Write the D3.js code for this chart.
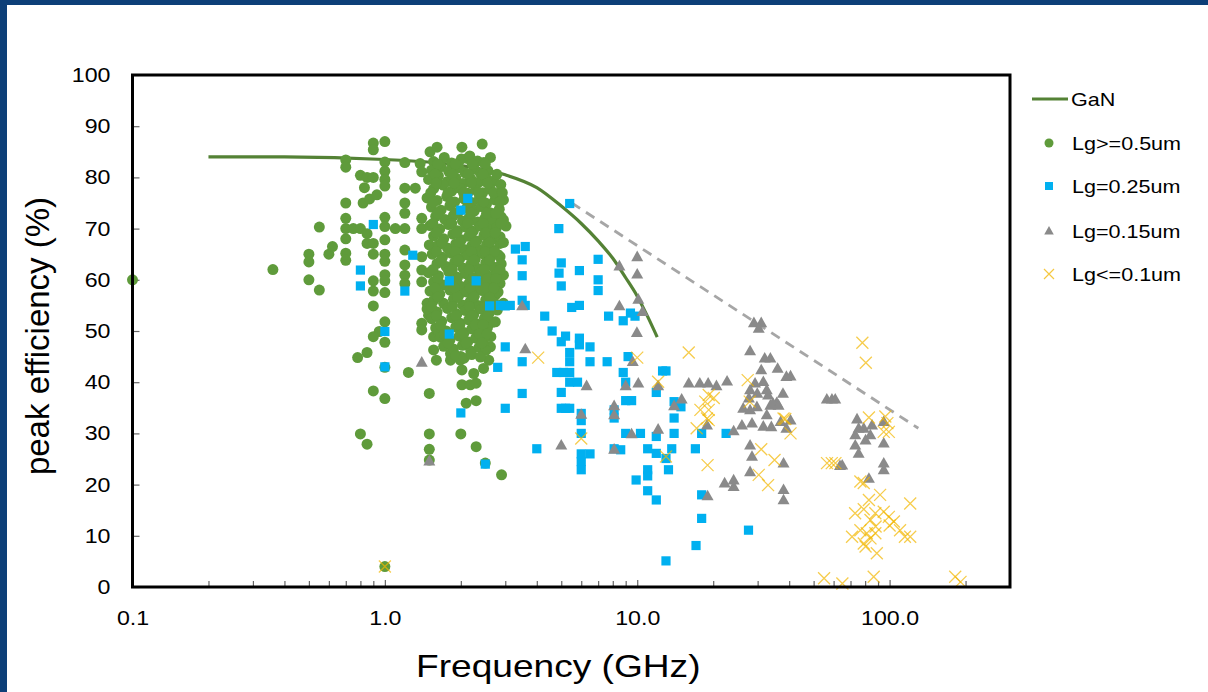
<!DOCTYPE html>
<html>
<head>
<meta charset="utf-8">
<script src="https://cdn.jsdelivr.net/npm/d3@7"></script>
<style>
html, body { margin: 0; padding: 0; background: #fff; }
svg { display: block; font-family: "Liberation Sans", Arial, sans-serif; }
</style>
</head>
<body>
<svg id="chart" width="1208" height="692"></svg>
<script>
// ---- data: [frequency GHz, peak efficiency %] ----
const ganFreq = [0.2, 0.4, 1, 2, 3, 4, 5, 6, 7, 8, 9, 10, 11, 12];
const ganEff  = [84, 84, 83.5, 82.3, 80.5, 78, 74.4, 71, 67.6, 64.2, 60.4, 56.8, 52.8, 48.8];

const trendFreq = [5.5, 130];
const trendEff  = [75, 31];

const lgHalf = [
  [0.1,60],[0.36,62],[0.5,65],[0.5,63.5],[0.5,60],[0.55,58],[0.55,70.3],[0.6,65],[0.62,66.5],
  [0.7,83.4],[0.7,82],[0.7,75],[0.7,72],[0.7,70],[0.7,68],[0.7,65.2],[0.7,63.8],
  [0.75,70],[0.8,70],[0.85,69],[0.8,80.4],[0.85,80],[0.9,80],[0.83,78],[0.82,75],[0.87,75.8],[0.93,76.6],
  [0.9,86.7],[0.9,85.4],[1.0,87],[1.0,83],[1.0,81.2],[1.0,79.6],[1.0,78.3],[1.0,72.2],[1.0,70.4],[1.1,70],
  [0.85,67.1],[0.9,67.1],[0.9,65],[1.0,67.8],[1.0,65],[1.0,63.6],
  [0.9,59.8],[0.9,57.8],[1.0,61],[1.0,59.8],[1.0,57.5],[0.9,54.9],[1.0,51.8],[0.95,49.9],[0.9,48.9],[1.0,47.8],
  [0.78,44.8],[0.85,45.8],[1.0,42.9],[0.9,38.3],[1.0,36.8],[0.8,29.9],[0.85,27.9],[1.0,4],
  [1.2,82.9],[1.38,82.7],[1.4,81.1],[1.51,85],[1.61,85.9],[2.02,85.9],[2.43,86.5],[2.62,83.9],
  [2.12,83.7],[2.25,82.4],
  [1.2,77.9],[1.32,77.9],[1.2,75],[1.2,73],[1.2,70],[1.4,72],[1.4,70],
  [1.2,65.8],[1.2,62.9],[1.2,60.9],[1.2,59.3],[1.4,64.5],[1.4,61.9],[1.4,59.6],[1.5,66.8],
  [1.4,51.5],[1.4,50.2],[1.47,55.4],[1.49,53.1],[1.56,48.9],[1.61,50.2],[1.7,49.9],[1.82,45.6],[2.0,45],
  [1.24,41.9],[1.5,37.8],[1.5,29.9],[1.5,26.9],[1.5,24.8],[2.0,29.9],[2.3,27.4],[2.5,24.2],[2.9,21.9],
  [1.56,46.3],[1.6,44.3],[1.82,44.3],[1.99,44.3],[2.02,42.4],[2.02,39.5],[2.18,39.5],[2.3,39.8],[2.1,35.9],[2.3,36.4],
  [2.58,44.3],[2.46,42.7],[2.25,41.7],[2.62,46.9],
  [2.95,75.6],[2.95,71.7],[2.86,67.1],[2.86,64.5],[2.95,60.9],[2.95,55.4],[2.74,57],[2.74,51.8],
  // dense block around 1.5 - 3 GHz
  [1.56,83.1],[1.72,83.9],[1.84,82.8],[2.01,83.6],[2.17,84.2],[2.33,83.2],[2.47,82.9],
  [1.53,81.4],[1.67,82.1],[1.79,81.2],[1.96,81.9],[2.08,80.9],[2.26,81.6],[2.39,80.8],[2.56,81.3],
  [1.49,79.6],[1.63,80.3],[1.77,79.2],[1.91,79.9],[2.04,78.8],[2.19,79.7],[2.36,79.1],[2.52,79.8],[2.7,79.3],[2.88,78.6],
  [1.56,77.8],[1.7,78.5],[1.84,77.3],[1.98,77.9],[2.13,76.9],[2.29,77.6],[2.44,77.0],[2.62,77.7],[2.79,76.8],
  [1.47,76.0],[1.61,75.5],[1.76,76.3],[1.89,75.2],[2.06,75.8],[2.21,75.1],[2.37,75.9],[2.53,74.9],[2.73,75.6],
  [1.53,74.2],[1.67,73.6],[1.81,74.5],[1.96,73.3],[2.11,74.0],[2.26,73.4],[2.41,74.3],[2.61,73.1],[2.84,73.8],
  [1.59,72.4],[1.73,71.8],[1.87,72.6],[2.03,71.5],[2.16,72.2],[2.33,71.3],[2.49,72.0],[2.67,71.4],[2.89,72.3],
  [1.51,70.6],[1.65,69.9],[1.79,70.8],[1.94,69.6],[2.09,70.3],[2.24,69.5],[2.39,70.5],[2.56,69.8],[2.77,70.2],[3.02,70.5],
  [1.56,68.6],[1.71,68.0],[1.86,68.9],[2.01,67.8],[2.15,68.5],[2.31,67.6],[2.47,68.7],[2.64,67.9],[2.86,68.4],
  [1.63,66.8],[1.77,66.2],[1.91,67.0],[2.06,65.9],[2.21,66.6],[2.37,65.8],[2.53,66.9],[2.71,65.7],
  [1.54,65.0],[1.69,64.4],[1.83,65.2],[1.98,64.1],[2.13,64.8],[2.28,64.0],[2.44,65.1],[2.61,64.3],[2.81,64.9],
  [1.61,63.2],[1.75,62.6],[1.89,63.4],[2.04,62.3],[2.19,63.0],[2.34,62.2],[2.51,63.3],[2.69,62.5],[2.89,63.1],
  [1.49,61.4],[1.63,60.8],[1.79,61.6],[1.94,60.5],[2.09,61.2],[2.25,60.4],[2.41,61.5],[2.58,60.7],[2.77,61.1],
  [1.56,59.6],[1.71,59.0],[1.86,59.8],[2.01,58.7],[2.16,59.4],[2.31,58.6],[2.47,59.7],[2.65,58.9],[2.86,59.3],
  [1.51,57.8],[1.65,57.2],[1.81,58.0],[1.96,56.9],[2.11,57.6],[2.26,56.8],[2.43,57.9],[2.61,57.1],[2.81,57.6],
  [1.56,56.0],[1.71,55.4],[1.87,56.2],[2.03,55.1],[2.18,55.8],[2.34,55.0],[2.51,56.1],[2.71,55.5],
  [1.47,54.3],[1.61,53.7],[1.77,54.4],[1.93,53.3],[2.09,54.0],[2.25,53.2],[2.41,54.3],[2.59,53.5],[2.79,54.1],
  [1.53,52.4],[1.68,51.9],[1.84,52.6],[1.99,51.5],[2.15,52.2],[2.31,51.4],[2.48,52.5],[2.67,51.7],
  [1.59,50.6],[1.75,50.0],[1.91,50.8],[2.06,49.7],[2.21,50.4],[2.37,49.6],[2.55,50.7],
  [1.66,48.8],[1.81,48.2],[1.97,49.0],[2.13,47.9],[2.29,48.6],[2.46,47.8],[2.63,48.9],
  [1.71,47.0],[1.87,46.5],[2.03,47.2],[2.19,46.1],[2.36,46.8],[2.51,46.2],
  [1.91,45.2],[2.06,44.7],[2.21,45.4],[2.39,44.9],
  // second layer filling the gaps of the block
  [1.62,82.6],[1.9,82.6],[2.22,82.6],[2.5,82.6],
  [1.58,80.6],[1.85,80.6],[2.14,80.6],[2.45,80.6],[2.78,80.6],
  [1.6,78.9],[1.88,78.9],[2.2,78.9],[2.55,78.9],
  [1.52,77],[1.78,77],[2.05,77],[2.35,77],[2.7,77],[2.92,77],
  [1.55,75.2],[1.83,75.2],[2.14,75.2],[2.46,75.2],[2.85,75.2],
  [1.62,73],[1.9,73],[2.2,73],[2.53,73],[2.75,73],
  [1.55,71],[1.84,71],[2.13,71],[2.45,71],[2.88,71],
  [1.6,69.2],[1.92,69.2],[2.2,69.2],[2.52,69.2],[2.74,69.2],
  [1.68,67.3],[1.97,67.3],[2.28,67.3],[2.6,67.3],[2.95,67.3],
  [1.6,65.5],[1.9,65.5],[2.2,65.5],[2.5,65.5],[2.72,65.5],
  [1.67,63.8],[1.95,63.8],[2.26,63.8],[2.6,63.8],
  [1.55,62],[1.85,62],[2.16,62],[2.48,62],[2.86,62],
  [1.62,60.2],[1.93,60.2],[2.23,60.2],[2.55,60.2],[2.75,60.2],
  [1.58,58.4],[1.88,58.4],[2.18,58.4],[2.52,58.4],[2.7,58.4],
  [1.62,56.6],[1.94,56.6],[2.25,56.6],[2.6,56.6],
  [1.53,54.8],[1.85,54.8],[2.16,54.8],[2.5,54.8],[2.68,54.8],
  [1.6,53],[1.91,53],[2.22,53],[2.56,53],
  [1.66,51.2],[1.98,51.2],[2.28,51.2],[2.45,51.2],
  [1.72,49.4],[2.04,49.4],[2.37,49.4],[2.54,49.4],
  [1.78,47.7],[2.1,47.7],[2.42,47.7]
];

const lgQuarter = [
  [5.4,74.9],[4.89,70],[3.29,66],[3.6,66.5],[3.5,63.9],[3.5,60.8],[5.0,63.3],[4.9,61.3],[5.0,58.8],[5.9,61.8],[7.0,64],[7.0,60],[7.0,57.9],
  [2.87,55],[3.14,55],[3.5,56],[3.6,55],[2.6,54.9],[3.0,54.9],[5.5,54.6],[5.9,55],[4.3,52.9],[7.7,52.9],[8.8,52],[9.4,53.5],[9.8,52.9],
  [4.6,50],[5.0,47.9],[5.2,49],[5.9,48.6],[5.9,47.3],[6.5,46.9],[3.0,46.9],[5.4,45.8],[5.4,44],[6.5,44],[7.6,44],[3.5,44],[9.2,45],
  [4.8,41.9],[5.1,41.9],[5.4,41.9],[8.8,41.9],[12.6,42.2],[13,42.2],[5.4,40],[5.8,40],[9.0,40],[3.5,37.8],[5.0,38],[11.9,38],[9.0,36.4],[9.5,36.4],
  [3.0,34.9],[5.0,34.9],[5.2,34.9],[5.4,34.9],[6.0,33.9],[6.0,32.5],[8.1,34.6],[8.1,33],[14,36.2],[14.9,35.2],[14,33],
  [6.0,30],[9.0,30],[10.3,30],[11.9,29.4],[14,30],[18,30],[22.5,30],[4.0,27],[8.1,27],[8.6,26.8],[11,27],[11.9,26.1],[13.7,27],[17,27],
  [6.0,26],[6.5,26],[6.0,24.5],[6.0,22.9],[13,25.1],[13.3,22.9],[11,22.9],[11,21.7],[9.9,20.9],[11,18.8],[11.9,17],[18,18],[18,13.4],[27.6,11.1],[17.1,8.1],[13,5.1],
  [2.13,75.9],[2.0,73.6],[0.9,70.8],[1.29,64.8],[0.8,61.9],[0.8,58.8],[1.2,57.8],[1.8,59.8],[2.3,59.8],[1.8,49.4],[1.0,49.9],[1.0,43],[2.8,42.9],[2.0,34],[2.5,24]
];

const lgFifteen = [
  [10.0,64.5],[8.5,62.7],[10.0,61.1],[10.1,56.2],[8.5,54.9],[10.5,53.8],[9.97,49.7],[3.5,54.9],[3.6,46.5],[9.6,44],[10.1,39.8],[9.0,39.3],[6.3,39.3],[12.1,39.3],[15,36.7],[14,35.4],
  [16,39.8],[17.7,39.8],[19.1,39.8],[20.6,39.3],[22.7,40.2],[6.0,33.7],[8.1,35.4],[8.1,33.6],[9.5,29.9],[12.1,30.8],[5.0,27.7],[8.1,26.9],[18.9,31.6],[24.1,30.5],[19,17.8],[22.2,20.3],[24.1,20.9],[24.1,19.6],
  [28,46.1],[29,51.6],[31,51.6],[30.3,50.5],[32,44.7],[33.7,44.7],[31,42.4],[36,42.7],[29.3,39.8],[31.6,40.1],[32.6,38.5],[28,38.5],[29.9,37.8],[27.7,36.9],
  [26.3,34.9],[28,34.6],[29.8,35.2],[33.7,35.5],[35.7,36],[37.8,37.8],[39,41.1],[26,31.6],[28.5,32],[31.6,31.4],[34,31.3],[37,32.3],
  [28,27.7],[28.5,25.5],[28,22.5],[38,24.2],[38,19],[38,17],[40.5,41.2],[33,37.5],[34.5,35.9],[36.3,35.5],[32.6,33.6],[40.5,32.6],[39,31],
  [56.4,36.7],[59.1,36.7],[60.9,36.7],[63.6,23.7],
  [74.3,32.8],[75.4,31],[73.1,29.7],[79,31],[85.2,31.6],[83.9,29.7],[80.3,28.7],[73.1,27.7],[75.4,26.1],[94.8,32.3],[94.8,28.1],[94.8,24.2],[94.8,22.9],[82.8,21.2],[64.9,23.8],
  [1.5,24.6],[1.4,43.9]
];

const lgTenth = [
  [4.05,44.8],[10.0,44.8],[16,45.8],[12.1,40.1],[6.0,29],[13,25.5],[19,23.8],[27.4,40.4],
  [19.2,37.5],[20.1,36.9],[18.6,36.2],[17.8,34.6],[19.2,34.6],[18.9,32.9],[17.2,31],[19.2,32.6],
  [27.9,36.2],[31,26.9],[35,24.8],[30.3,21.9],[33,19.9],[38.6,32.8],[38,32.9],[40.5,30],
  [78,47.7],[80.5,43.8],[56.5,24.2],[59,24.2],[61,24.2],[55,1.7],[65,0.7],
  [82.8,33.1],[96.2,33.3],[98,32],[94.8,30.3],[99.3,30.3],
  [76.6,20.6],[79,20.3],[82.8,17],[91.7,18],[79,15.2],[73,14.4],[87.8,14.4],[94.8,14.7],[99.3,13.7],[104,12.8],[120.7,16.3],
  [84,13.1],[76.6,11.1],[81.2,10.5],[84,9.5],[80.3,7.9],[89,6.6],[71,9.8],[110,11.1],[115,9.8],[120.7,9.8],[79,8.5],[87.8,10.5],
  [88,11.8],[100,12],[86.5,2],[182,2],[191,1],[1.0,4]
];

const yTicks = [0, 10, 20, 30, 40, 50, 60, 70, 80, 90, 100];
const xMajor = [0.1, 1, 10, 100];
const xMajorLabels = ['0.1', '1.0', '10.0', '100.0'];
const xMinor = [0.2,0.3,0.4,0.5,0.6,0.7,0.8,0.9, 2,3,4,5,6,7,8,9, 20,30,40,50,60,70,80,90, 200];

const legendItems = ['GaN', 'Lg>=0.5um', 'Lg=0.25um', 'Lg=0.15um', 'Lg<=0.1um'];

// ---- layout ----
const W = 1208, H = 692;
const plotLeft = 132.5, plotRight = 1010, plotTop = 75, plotBottom = 587;
const stretch = 1.16;   // picture text is a bit wide

const green = '#5f9b3b', ganColor = '#548235', blue = '#00b0f0', gray = '#8a8a8a', gold = '#f2b600';

const svg = d3.select('#chart');

// dark frame of the slide
svg.append('rect').attr('x', 0).attr('y', 0).attr('width', W).attr('height', 5).attr('fill', '#0d3f78');
svg.append('rect').attr('x', 0).attr('y', 0).attr('width', 7).attr('height', H).attr('fill', '#0d3f78');

const x = d3.scaleLog().domain([0.1, 300]).range([plotLeft, plotRight]);
const y = d3.scaleLinear().domain([0, 100]).range([plotBottom, plotTop]);

// y axis
const yAxis = svg.append('g')
  .attr('transform', `translate(${plotLeft},0)`)
  .call(d3.axisLeft(y).tickValues(yTicks).tickSizeInner(-7).tickSizeOuter(0).tickPadding(22));
yAxis.select('.domain').remove();
yAxis.selectAll('.tick line').attr('stroke', '#666').attr('stroke-width', 1.2);
yAxis.selectAll('.tick text')
  .attr('font-size', 20).attr('fill', '#000')
  .attr('font-family', '"Liberation Sans", Arial, sans-serif')
  .attr('x', -22 / stretch)
  .attr('transform', `scale(${stretch},1)`);

// x axis: minor ticks, then major ticks with labels
const xMinorAxis = svg.append('g')
  .attr('transform', `translate(0,${plotBottom})`)
  .call(d3.axisBottom(x).tickValues(xMinor).tickSizeInner(-6).tickSizeOuter(0).tickFormat(''));
xMinorAxis.select('.domain').remove();
xMinorAxis.selectAll('.tick line').attr('stroke', '#666').attr('stroke-width', 1.2);

const xAxis = svg.append('g')
  .attr('transform', `translate(0,${plotBottom})`)
  .call(d3.axisBottom(x).tickValues(xMajor).tickSizeInner(-7).tickSizeOuter(0).tickPadding(24)
    .tickFormat((d, i) => xMajorLabels[i]));
xAxis.select('.domain').remove();
xAxis.selectAll('.tick line').attr('stroke', '#666').attr('stroke-width', 1.2);
xAxis.selectAll('.tick text')
  .attr('font-size', 20).attr('fill', '#000')
  .attr('font-family', '"Liberation Sans", Arial, sans-serif')
  .attr('transform', `scale(${stretch},1)`);

// curves
const ganLine = d3.line()
  .x((d, i) => x(ganFreq[i]))
  .y((d, i) => y(ganEff[i]))
  .curve(d3.curveMonotoneX);
svg.append('path')
  .attr('d', ganLine(ganFreq))
  .attr('fill', 'none').attr('stroke', ganColor).attr('stroke-width', 3.2);

svg.append('path')
  .attr('d', d3.line().x((d, i) => x(trendFreq[i])).y((d, i) => y(trendEff[i]))(trendFreq))
  .attr('fill', 'none').attr('stroke', '#a6a6a6').attr('stroke-width', 2.8)
  .attr('stroke-dasharray', '10,7');

// markers
const plot = svg.append('g');

plot.selectAll('circle.half')
  .data(lgHalf).enter().append('circle')
  .attr('class', 'half')
  .attr('cx', d => x(d[0])).attr('cy', d => y(d[1]))
  .attr('r', 5.5).attr('fill', green);

plot.selectAll('rect.quarter')
  .data(lgQuarter).enter().append('rect')
  .attr('class', 'quarter')
  .attr('x', d => x(d[0]) - 4.6).attr('y', d => y(d[1]) - 4.6)
  .attr('width', 9.2).attr('height', 9.2).attr('fill', blue);

const triPath = 'M0,-6.2L6,4.4L-6,4.4Z';
plot.selectAll('path.fifteen')
  .data(lgFifteen).enter().append('path')
  .attr('class', 'fifteen')
  .attr('d', triPath)
  .attr('transform', d => `translate(${x(d[0])},${y(d[1])})`)
  .attr('fill', gray);

const crossPath = 'M-6,-6L6,6M-6,6L6,-6';
plot.selectAll('path.tenth')
  .data(lgTenth).enter().append('path')
  .attr('class', 'tenth')
  .attr('d', crossPath)
  .attr('transform', d => `translate(${x(d[0])},${y(d[1])})`)
  .attr('fill', 'none').attr('stroke', gold).attr('stroke-width', 1.3).attr('stroke-opacity', 0.7);

// plot frame
svg.append('rect')
  .attr('x', plotLeft).attr('y', plotTop)
  .attr('width', plotRight - plotLeft).attr('height', plotBottom - plotTop)
  .attr('fill', 'none').attr('stroke', '#000').attr('stroke-width', 3);

// axis titles
svg.append('g')
  .attr('transform', `translate(${(plotLeft + plotRight) / 2 - 13},677) scale(${stretch},1)`)
  .append('text')
  .attr('text-anchor', 'middle').attr('font-size', 32).attr('fill', '#000')
  .text('Frequency (GHz)');

svg.append('text')
  .attr('transform', `translate(49,336) rotate(-90)`)
  .attr('text-anchor', 'middle').attr('font-size', 33).attr('fill', '#000')
  .text('peak efficiency (%)');

// legend
const legendY = [99, 143, 186, 231, 274];
const legend = svg.append('g');
legend.append('line')
  .attr('x1', 1032).attr('x2', 1068).attr('y1', legendY[0]).attr('y2', legendY[0])
  .attr('stroke', ganColor).attr('stroke-width', 3);
legend.append('circle').attr('cx', 1049).attr('cy', legendY[1]).attr('r', 4.5).attr('fill', green);
legend.append('rect').attr('x', 1045).attr('y', legendY[2] - 4).attr('width', 8).attr('height', 8).attr('fill', blue);
legend.append('path').attr('d', 'M0,-5L4.8,3.5L-4.8,3.5Z')
  .attr('transform', `translate(1049,${legendY[3]})`).attr('fill', gray);
legend.append('path').attr('d', 'M-5,-5L5,5M-5,5L5,-5')
  .attr('transform', `translate(1049,${legendY[4]})`)
  .attr('fill', 'none').attr('stroke', gold).attr('stroke-width', 1.2).attr('stroke-opacity', 0.75);

legendItems.forEach(function(t, i) {
  legend.append('g')
    .attr('transform', `translate(${i === 0 ? 1071 : 1072},${legendY[i]}) scale(${stretch},1)`)
    .append('text')
    .attr('dy', '0.35em').attr('font-size', 18.6).attr('fill', '#000')
    .text(t);
});
</script>
</body>
</html>
